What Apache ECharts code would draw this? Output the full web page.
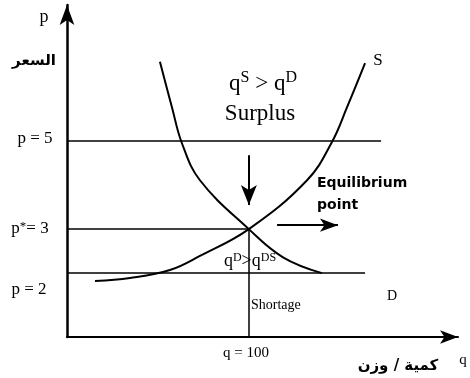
<!DOCTYPE html>
<html>
<head>
<meta charset="utf-8">
<script src="https://cdn.jsdelivr.net/npm/echarts@6/dist/echarts.min.js"></script>
<style>
html, body { margin: 0; padding: 0; background: #fff; }
#chart { width: 470px; height: 378px; }
</style>
</head>
<body>
<div id="chart"></div>
<script>
// supply curve S (quantity, price)
var supplyQ = [15.4, 34.6, 56.6, 73.1, 100, 132, 145.7, 154, 163.9];
var supplyP = [1.82, 1.89, 2.07, 2.39, 3, 4.11, 4.98, 5.77, 6.77];
// demand curve D
var demandQ = [51.1, 57.7, 63.2, 73.1, 100, 118.8, 140.2];
var demandP = [6.80, 5.77, 4.95, 4.11, 3, 2.36, 2.0];
// price levels and how far their lines reach
var priceLevels = [5, 3, 2];
var priceLineEnd = [172.7, 100, 163.9];
var eqQ = 100, eqP = 3;
// arrows: surplus pushes price down, equilibrium arrow to the right
var downArrow = [[100, 4.68], [100, 3.55]];
var rightArrow = [[115.5, 3.09], [149, 3.09]];

var serif = '"Liberation Serif", "DejaVu Serif", serif';

function zip(a, b) {
	var out = [];
	for (var i = 0; i < a.length; i++) out.push([a[i], b[i]]);
	return out;
}

var guideLines = [];
for (var i = 0; i < priceLevels.length; i++) {
	guideLines.push([{ coord: [0, priceLevels[i]] }, { coord: [priceLineEnd[i], priceLevels[i]] }]);
}
guideLines.push([{ coord: [eqQ, eqP] }, { coord: [eqQ, 0.55] }]);

function txt(text, x, y, font, align) {
	return {
		type: 'text', x: x, y: y, silent: true,
		style: { text: text, font: font, fill: '#000', textAlign: align || 'center', textVerticalAlign: 'middle' }
	};
}
function richTxt(text, x, y, rich) {
	return {
		type: 'text', x: x, y: y, silent: true,
		style: { text: text, rich: rich, fill: '#000', textAlign: 'center', textVerticalAlign: 'middle' }
	};
}

var chart = echarts.init(document.getElementById('chart'));
var option = {
	animation: false,
	grid: { left: 67, right: 12, top: 5, bottom: 41 },
	xAxis: {
		type: 'value', min: 0, max: 215,
		axisLine: { symbol: ['none', 'arrow'], symbolSize: [10, 18], lineStyle: { color: '#000', width: 2 } },
		axisTick: { show: false }, axisLabel: { show: false }, splitLine: { show: false }
	},
	yAxis: {
		type: 'value', min: 0.55, max: 8.09,
		axisLine: { show: true, symbol: ['none', 'arrow'], symbolSize: [11, 20], lineStyle: { color: '#000', width: 2.5 } },
		axisTick: { show: false }, axisLabel: { show: false }, splitLine: { show: false }
	},
	series: [{
		name: 'S', type: 'line', data: zip(supplyQ, supplyP),
		showSymbol: false, smooth: 0.4,
		lineStyle: { color: '#000', width: 2 }
	}, {
		name: 'D', type: 'line', data: zip(demandQ, demandP),
		showSymbol: false, smooth: 0.4,
		lineStyle: { color: '#000', width: 2 }
	}, {
		name: 'guides', type: 'line', data: [],
		markLine: {
			silent: true, symbol: 'none', label: { show: false },
			lineStyle: { color: '#000', width: 1.5, type: 'solid' },
			emphasis: { disabled: true },
			data: guideLines
		}
	}, {
		name: 'arrows', type: 'line', data: [],
		markLine: {
			silent: true, symbol: ['none', 'arrow'], symbolSize: [12, 20], label: { show: false },
			lineStyle: { color: '#000', width: 2, type: 'solid' },
			emphasis: { disabled: true },
			data: [
				[{ coord: downArrow[0] }, { coord: downArrow[1] }],
				[{ coord: rightArrow[0] }, { coord: rightArrow[1], symbolSize: [10, 18] }]
			]
		}
	}],
	graphic: [
		txt('p', 44, 17, '18px ' + serif),
		txt('السعر', 34, 61, 'bold 15px "DejaVu Sans"'),
		txt('p = 5', 35, 139, '17px ' + serif),
		richTxt('{a|p}{s|*}{a|= 3}', 30, 229, {
			a: { font: '17px ' + serif, fill: '#000' },
			s: { font: '13px ' + serif, fill: '#000', verticalAlign: 'top' }
		}),
		txt('p = 2', 29, 290, '17px ' + serif),
		richTxt('{a|q}{s|S}{a| > q}{s|D}', 263, 84, {
			a: { font: '23px ' + serif, fill: '#000', lineHeight: 28 },
			s: { font: '16px ' + serif, fill: '#000', verticalAlign: 'top' }
		}),
		txt('Surplus', 260, 114, '23px ' + serif),
		txt('S', 378, 61, '17px ' + serif),
		txt('Equilibrium', 317, 183, 'bold 14px "DejaVu Sans"', 'left'),
		txt('point', 317, 205, 'bold 14px "DejaVu Sans"', 'left'),
		richTxt('{a|q}{s|D}{a|>q}{s|DS}', 250, 261, {
			a: { font: '18px ' + serif, fill: '#000', lineHeight: 19 },
			s: { font: '12px ' + serif, fill: '#000', verticalAlign: 'top' }
		}),
		txt('Shortage', 251, 305, '14px ' + serif, 'left'),
		txt('D', 392, 296, '14px ' + serif),
		txt('q = 100', 246, 353, '15px ' + serif),
		txt('q', 463, 360, '15px ' + serif),
		txt('كمية / وزن', 398, 366, 'bold 15px "DejaVu Sans"')
	]
};
chart.setOption(option);
</script>
</body>
</html>
